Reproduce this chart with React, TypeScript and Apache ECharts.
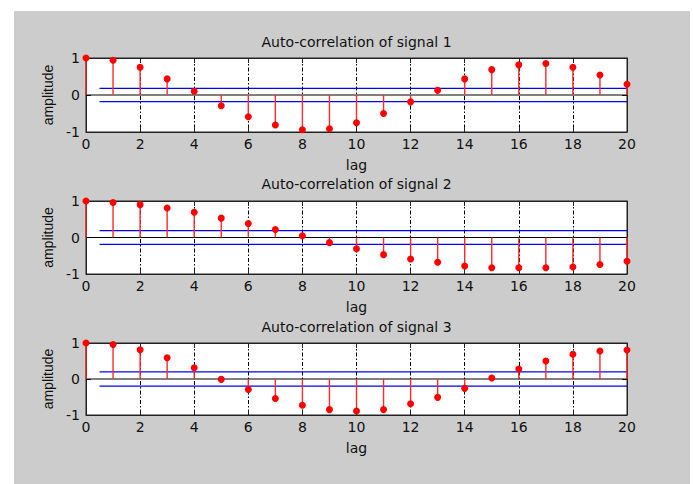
import React, { useEffect, useRef } from "react";
import * as echarts from "echarts";

// Lags shared by all three panels
const lags = [0, 1, 2, 3, 4, 5, 6, 7, 8, 9, 10, 11, 12, 13, 14, 15, 16, 17, 18, 19, 20];

// Auto-correlation values per signal
const signal1 = [1.0, 0.94, 0.75, 0.435, 0.1, -0.29, -0.59, -0.81, -0.94, -0.91, -0.75, -0.5, -0.185, 0.13, 0.435, 0.685, 0.815, 0.85, 0.75, 0.54, 0.29];
const signal2 = [1.0, 0.96, 0.9, 0.81, 0.69, 0.53, 0.385, 0.22, 0.046, -0.14, -0.31, -0.47, -0.59, -0.68, -0.78, -0.83, -0.83, -0.83, -0.81, -0.74, -0.65];
const signal3 = [1.0, 0.96, 0.81, 0.59, 0.31, -0.01, -0.29, -0.54, -0.73, -0.85, -0.89, -0.85, -0.69, -0.51, -0.26, 0.03, 0.28, 0.5, 0.685, 0.78, 0.805];

// Confidence bounds (drawn at ±bound)
const bounds = [0.18, 0.19, 0.2];
const boundStart = 0.5;

const titles = ["Auto-correlation of signal 1", "Auto-correlation of signal 2", "Auto-correlation of signal 3"];
const xLabel = "lag";
const yLabel = "amplitude";

const xMin = 0;
const xMax = 20;
const xStep = 2;
const yMin = -1;
const yMax = 1;
const yStep = 1;

const panels = [signal1, signal2, signal3];

// Layout of the three axes boxes (pixels)
const boxes = [
  { left: 86, top: 58, width: 541, height: 74 },
  { left: 86, top: 201, width: 541, height: 73 },
  { left: 86, top: 343, width: 541, height: 72 },
];
const titleY = [42, 183.5, 326.5];
const lagY = [164.5, 306.5, 448];

const FONT = "DejaVu Sans";
const TEXT = "#111111";
const BOX = "#222222";

export default function App() {
  const ref = useRef<HTMLDivElement>(null);

  useEffect(() => {
    if (!ref.current) return;
    const chart = echarts.init(ref.current, undefined, { renderer: "svg" });

    const grid: any[] = [];
    const xAxis: any[] = [];
    const yAxis: any[] = [];
    const series: any[] = [];
    const graphic: any[] = [
      {
        type: "rect",
        shape: { x: 14, y: 11, width: 676, height: 473 },
        style: { fill: "#cccccc" },
        z: -10,
        silent: true,
      },
    ];

    panels.forEach((values, i) => {
      const b = boxes[i];
      grid.push({
        left: b.left,
        top: b.top,
        width: b.width,
        height: b.height,
        show: true,
        backgroundColor: "#ffffff",
        borderColor: BOX,
        borderWidth: 1,
        outerBoundsMode: "none",
        containLabel: false,
      });

      const tick = { show: true, inside: true, length: 5, lineStyle: { color: BOX, width: 1 } };

      // bottom x axis with labels and dash-dot grid
      xAxis.push({
        type: "value",
        gridIndex: i,
        position: "bottom",
        min: xMin,
        max: xMax,
        interval: xStep,
        axisLine: { show: true, onZero: false, lineStyle: { color: BOX } },
        axisTick: tick,
        axisLabel: { color: TEXT, fontSize: 14, fontFamily: FONT, margin: 5 },
        splitLine: {
          show: true,
          showMinLine: false,
          showMaxLine: false,
          lineStyle: { color: "#000000", width: 1, type: [4, 2, 1.5, 2] },
        },
      });
      // top x axis: ticks only
      xAxis.push({
        type: "value",
        gridIndex: i,
        position: "top",
        min: xMin,
        max: xMax,
        interval: xStep,
        axisLine: { show: true, onZero: false, lineStyle: { color: BOX } },
        axisTick: tick,
        axisLabel: { show: false },
        splitLine: { show: false },
      });

      yAxis.push({
        type: "value",
        gridIndex: i,
        position: "left",
        min: yMin,
        max: yMax,
        interval: yStep,
        name: yLabel,
        nameLocation: "middle",
        nameGap: 30,
        nameRotate: 90,
        nameTextStyle: { color: TEXT, fontSize: 14, fontFamily: "Liberation Sans" },
        axisLine: { show: true, onZero: false, lineStyle: { color: BOX } },
        axisTick: tick,
        axisLabel: { color: TEXT, fontSize: 14, fontFamily: FONT, margin: 6 },
        splitLine: { show: false },
      });
      yAxis.push({
        type: "value",
        gridIndex: i,
        position: "right",
        min: yMin,
        max: yMax,
        interval: yStep,
        axisLine: { show: true, onZero: false, lineStyle: { color: BOX } },
        axisTick: tick,
        axisLabel: { show: false },
        splitLine: { show: false },
      });

      const xi = i * 2;
      const yi = i * 2;

      // stem baseline
      series.push({
        type: "line",
        xAxisIndex: xi,
        yAxisIndex: yi,
        data: [
          [xMin, 0],
          [xMax, 0],
        ],
        symbol: "none",
        lineStyle: { color: "#000000", width: 1 },
        z: 2,
        silent: true,
      });

      // confidence bounds
      [bounds[i], -bounds[i]].forEach((v) => {
        series.push({
          type: "line",
          xAxisIndex: xi,
          yAxisIndex: yi,
          data: [
            [boundStart, v],
            [xMax, v],
          ],
          symbol: "none",
          lineStyle: { color: "#0000ff", width: 1.2 },
          z: 2,
          silent: true,
        });
      });

      // stems with filled markers
      series.push({
        type: "custom",
        xAxisIndex: xi,
        yAxisIndex: yi,
        data: lags.map((l, k) => [l, values[k]]),
        renderItem: (_params: any, api: any) => {
          const x = api.value(0);
          const y = api.value(1);
          const p0 = api.coord([x, 0]);
          const p1 = api.coord([x, y]);
          return {
            type: "group",
            children: [
              {
                type: "line",
                shape: { x1: p0[0], y1: p0[1], x2: p1[0], y2: p1[1] },
                style: { stroke: "#ff2a2a", lineWidth: 1.4 },
              },
              {
                type: "circle",
                shape: { cx: p1[0], cy: p1[1], r: 3.5 },
                style: { fill: "#ff0000" },
              },
            ],
          };
        },
        z: 3,
        silent: true,
      });

      const cx = b.left + b.width / 2;
      graphic.push({
        type: "text",
        x: cx,
        y: titleY[i],
        style: {
          text: titles[i],
          fill: TEXT,
          fontSize: 14,
          fontFamily: FONT,
          align: "center",
          verticalAlign: "middle",
        },
        z: 10,
      });
      graphic.push({
        type: "text",
        x: cx,
        y: lagY[i],
        style: {
          text: xLabel,
          fill: TEXT,
          fontSize: 14,
          fontFamily: FONT,
          align: "center",
          verticalAlign: "middle",
        },
        z: 10,
      });
    });

    chart.setOption({
      animation: false,
      backgroundColor: "#ffffff",
      grid,
      xAxis,
      yAxis,
      series,
      graphic,
    });

    return () => chart.dispose();
  }, []);

  return (
    <div
      ref={ref}
      style={{ position: "fixed", left: 0, top: 0, width: 693, height: 484 }}
    />
  );
}
